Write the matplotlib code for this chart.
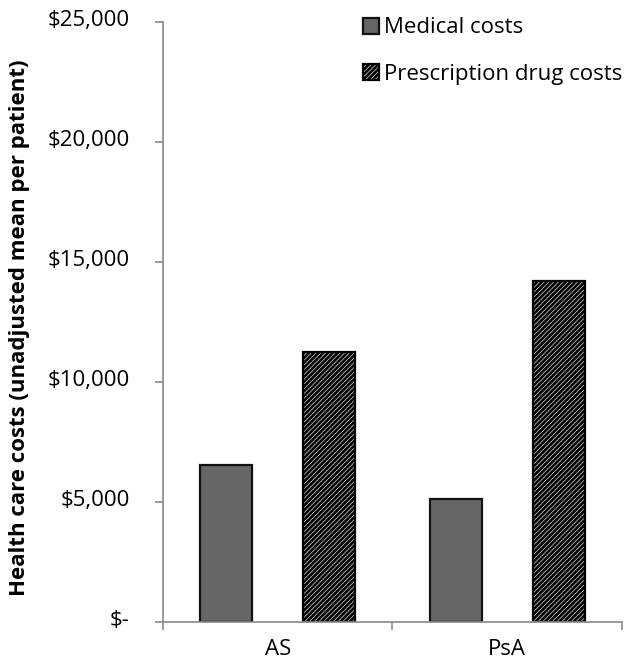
import matplotlib
matplotlib.use('Agg')
import matplotlib.pyplot as plt
import matplotlib.transforms as mtransforms
import numpy as np
from matplotlib.ticker import FuncFormatter, FixedLocator

plt.rcParams['font.family'] = ['Open Sans', 'DejaVu Sans']
plt.rcParams['hatch.linewidth'] = 2.0

# Data
groups = ['AS', 'PsA']
medical_costs = [6540, 5130]
drug_costs = [11250, 14200]
y_ticks = [0, 5000, 10000, 15000, 20000, 25000]

fig = plt.figure(figsize=(6.24, 6.65), dpi=100)
ax = fig.add_axes([0.2612, 0.0647, 0.7356, 0.902])

x = np.arange(len(groups))
width = 0.227
offset = 0.224

ax.bar(x - offset, medical_costs, width, color='#666666', edgecolor='#111111',
       linewidth=1.6, label='Medical costs')
ax.bar(x + offset, drug_costs, width, color='white', edgecolor='black',
       hatch='///////', linewidth=1.6, label='Prescription drug costs')

ax.set_xlim(-0.5, 1.5)
ax.set_ylim(0, 25000)
ax.yaxis.set_major_locator(FixedLocator(y_ticks))
ax.yaxis.set_major_formatter(FuncFormatter(
    lambda v, p: '$-' if v == 0 else '${:,.0f}'.format(v)))

ax.set_xticks(x)
ax.set_xticklabels(groups)
ax.set_xticks([-0.5, 0.5, 1.5], minor=True)
ax.tick_params(axis='x', which='major', length=0, labelsize=16, pad=12)
ax.tick_params(axis='x', which='minor', length=6, color='#898989', width=1.2)
ax.tick_params(axis='y', length=6, color='#898989', width=1.2, labelsize=16, pad=18)

# Excel places the value labels slightly above their ticks
shift = mtransforms.ScaledTranslation(0, 3 / 72, fig.dpi_scale_trans)
for lbl in ax.get_yticklabels():
    lbl.set_transform(lbl.get_transform() + shift)

for s in ['top', 'right']:
    ax.spines[s].set_visible(False)
for s in ['left', 'bottom']:
    ax.spines[s].set_color('#898989')
    ax.spines[s].set_linewidth(1.2)

ax.set_ylabel('Health care costs (unadjusted mean per patient)',
              fontsize=16, fontweight='bold')
ax.yaxis.set_label_coords(-0.29, 0.49)

ax.legend(loc='upper left', bbox_to_anchor=(0.436, 1.008), frameon=False,
          fontsize=16, handlelength=0.73, handleheight=0.73, handletextpad=0.2,
          labelspacing=1.15, borderaxespad=0, borderpad=0)

fig.savefig('out.png', dpi=100)
